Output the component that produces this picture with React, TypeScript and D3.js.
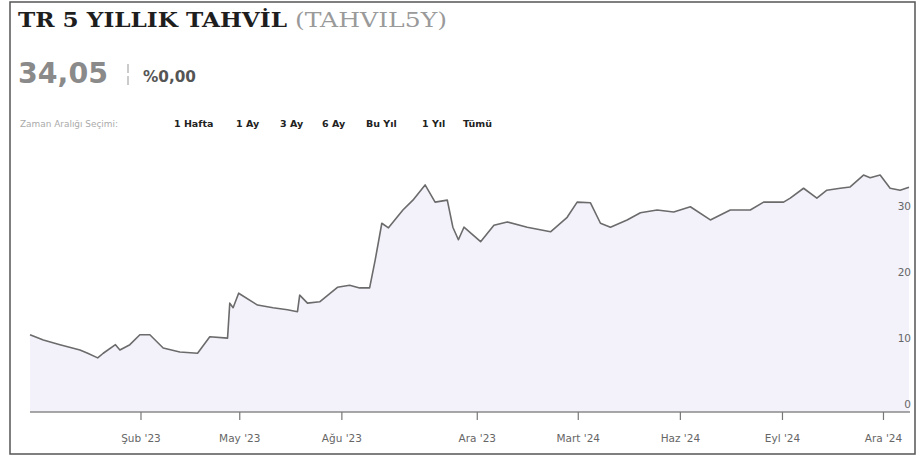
import React from "react";
import * as d3 from "d3";

const dates = ["2022-10-24","2022-11-05","2022-11-20","2022-12-08","2022-12-15","2022-12-24","2022-12-29","2023-01-09","2023-01-13","2023-01-22","2023-01-31","2023-02-09","2023-02-21","2023-03-08","2023-03-24","2023-04-04","2023-04-20","2023-04-22","2023-04-25","2023-04-30","2023-05-17","2023-05-31","2023-06-13","2023-06-22","2023-06-24","2023-07-01","2023-07-12","2023-07-28","2023-08-08","2023-08-17","2023-08-26","2023-08-31","2023-09-06","2023-09-12","2023-09-25","2023-10-04","2023-10-15","2023-10-24","2023-11-04","2023-11-09","2023-11-14","2023-11-19","2023-12-04","2023-12-16","2023-12-28","2024-01-15","2024-02-05","2024-02-20","2024-02-29","2024-03-12","2024-03-21","2024-03-30","2024-04-14","2024-04-26","2024-05-11","2024-05-26","2024-06-10","2024-06-28","2024-07-16","2024-08-03","2024-08-15","2024-09-02","2024-09-08","2024-09-20","2024-10-02","2024-10-11","2024-10-23","2024-11-01","2024-11-13","2024-11-19","2024-11-28","2024-12-07","2024-12-16","2024-12-24"];

const values = [11.7,10.9,10.2,9.4,8.9,8.2,8.9,10.2,9.4,10.2,11.7,11.7,9.7,9.1,8.9,11.4,11.2,16.5,15.8,18.0,16.2,15.8,15.5,15.2,17.7,16.5,16.7,18.9,19.2,18.8,18.8,23.0,28.6,27.9,30.6,32.1,34.4,31.8,32.1,28.0,26.1,28.0,25.8,28.3,28.8,28.0,27.3,29.5,31.8,31.7,28.6,28.0,29.1,30.2,30.6,30.3,31.1,29.1,30.6,30.6,31.8,31.8,32.4,33.9,32.4,33.6,33.9,34.1,35.9,35.5,35.9,33.9,33.6,34.05];

const tickDates = ["2023-02-01","2023-05-01","2023-08-01","2023-12-01","2024-03-01","2024-06-01","2024-09-01","2024-12-01"];
const tickLabels = ["Şub '23","May '23","Ağu '23","Ara '23","Mart '24","Haz '24","Eyl '24","Ara '24"];
const yTicks = [0, 10, 20, 30];

const title = "TR 5 YILLIK TAHVİL";
const symbol = "(TAHVIL5Y)";
const lastValue = "34,05";
const change = "%0,00";
const rangeLabel = "Zaman Aralığı Seçimi:";
const rangeOptions = ["1 Hafta", "1 Ay", "3 Ay", "6 Ay", "Bu Yıl", "1 Yıl", "Tümü"];
const rangeX = [174, 236, 280, 322, 366, 422, 463];

const W = 917;
const H = 456;

export default function App() {
  const parse = d3.utcParse("%Y-%m-%d");
  const data = dates.map((d, i) => ({ date: parse(d) as Date, value: values[i] }));
  const x = d3
    .scaleUtc()
    .domain(d3.extent(data, (d) => d.date) as [Date, Date])
    .range([30, 909]);
  const y = d3.scaleLinear().domain([0, 40]).range([412, 148]);

  const line = d3
    .line<{ date: Date; value: number }>()
    .x((d) => x(d.date))
    .y((d) => y(d.value));
  const area = d3
    .area<{ date: Date; value: number }>()
    .x((d) => x(d.date))
    .y0(y(0))
    .y1((d) => y(d.value));

  const sans = "'DejaVu Sans', Verdana, sans-serif";
  const serif = "'DejaVu Serif', 'Liberation Serif', serif";

  return (
    <svg
      width={W}
      height={H}
      style={{ position: "absolute", left: 0, top: 0, background: "#fff" }}
    >
      <rect x={10} y={2} width={905} height={452} fill="#fff" stroke="#555" strokeWidth={1.5} />

      <text x={18} y={27} fontFamily={serif} fontWeight="bold" fontSize={21} fill="#1e1e1e" textLength={269} lengthAdjust="spacingAndGlyphs">
        {title}
      </text>
      <text x={295} y={27} fontFamily={serif} fontSize={21} fill="#9a9a9a" textLength={152} lengthAdjust="spacingAndGlyphs">
        {symbol}
      </text>

      <text x={18} y={83} fontFamily={sans} fontWeight="bold" fontSize={28} fill="#8a8a8a" textLength={90} lengthAdjust="spacingAndGlyphs">
        {lastValue}
      </text>
      <line x1={128} x2={128} y1={64} y2={86} stroke="#bbb" strokeWidth={1.5} strokeDasharray="9,3" />
      <text x={143} y={82} fontFamily={sans} fontWeight="bold" fontSize={15} fill="#555" textLength={53} lengthAdjust="spacingAndGlyphs">
        {change}
      </text>

      <text x={20} y={127} fontFamily={sans} fontSize={9} fill="#aaa" textLength={98} lengthAdjust="spacingAndGlyphs">
        {rangeLabel}
      </text>
      {rangeOptions.map((t, i) => (
        <text key={t} x={rangeX[i]} y={127} fontFamily={sans} fontWeight="bold" fontSize={9.5} fill="#222">
          {t}
        </text>
      ))}

      <path d={area(data) || ""} fill="#f3f2fb" />
      <path d={line(data) || ""} fill="none" stroke="#6b6b6b" strokeWidth={1.6} strokeLinejoin="round" />

      <line x1={30} x2={910} y1={y(0)} y2={y(0)} stroke="#8a8a8a" strokeWidth={1.5} />
      {tickDates.map((d, i) => {
        const tx = x(parse(d) as Date);
        return (
          <g key={d}>
            <line x1={tx} x2={tx} y1={y(0)} y2={y(0) + 8} stroke="#777" strokeWidth={1.2} />
            <text x={tx} y={442} textAnchor="middle" fontFamily={sans} fontSize={10.5} fill="#666">
              {tickLabels[i]}
            </text>
          </g>
        );
      })}
      {yTicks.map((v) => (
        <text key={v} x={911} y={y(v) - 4} textAnchor="end" fontFamily={sans} fontSize={10.5} fill="#666">
          {v}
        </text>
      ))}
    </svg>
  );
}
